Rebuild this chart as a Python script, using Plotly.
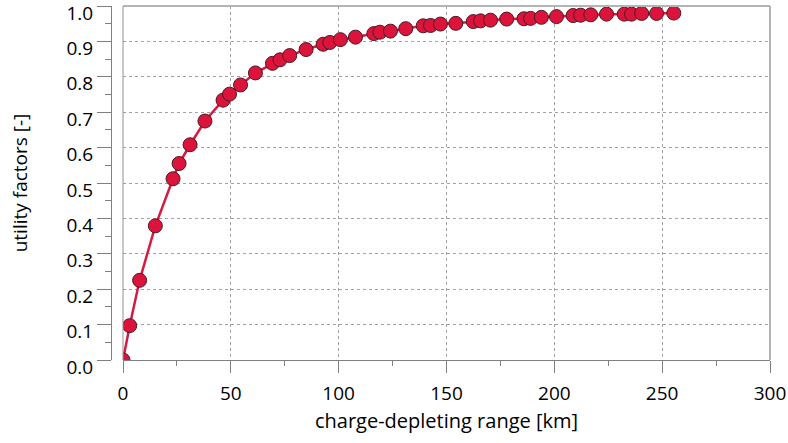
import plotly.graph_objects as go

cd_range_km = [0, 3.1, 7.7, 15.0, 23.2, 26.0, 31.1, 38.0, 46.4, 49.4, 54.5, 61.4,
               69.3, 72.8, 77.3, 84.9, 92.8, 95.9, 100.8, 107.8, 116.3, 119.1,
               124.0, 131.1, 139.2, 142.6, 147.2, 154.3, 162.4, 165.8, 170.4,
               177.9, 185.9, 189.0, 194.0, 201.0, 208.7, 212.2, 216.9, 224.2,
               232.4, 235.8, 240.5, 247.4, 255.4]
utility_factor = [0.0, 0.097, 0.225, 0.379, 0.512, 0.555, 0.608, 0.675, 0.734,
                  0.751, 0.777, 0.811, 0.838, 0.848, 0.860, 0.877, 0.892, 0.897,
                  0.905, 0.912, 0.922, 0.926, 0.929, 0.936, 0.944, 0.945, 0.949,
                  0.951, 0.956, 0.958, 0.960, 0.963, 0.964, 0.965, 0.968, 0.970,
                  0.973, 0.974, 0.975, 0.977, 0.977, 0.977, 0.979, 0.979, 0.980]

x_ticks = [0, 50, 100, 150, 200, 250, 300]
y_ticks = [0.0, 0.1, 0.2, 0.3, 0.4, 0.5, 0.6, 0.7, 0.8, 0.9, 1.0]

W, H = 788, 443
ml, mr, mt, mb = 111, 18, 6, 83
plot_left = 123
dom0 = (plot_left - ml) / (W - ml - mr)

font = "Open Sans, Noto Sans, sans-serif"
FS = 19

fig = go.Figure()
fig.add_trace(go.Scatter(
    x=cd_range_km, y=utility_factor, mode="lines+markers",
    line=dict(color="#d41c43", width=2.5),
    marker=dict(size=14, color="#dc143c", line=dict(color="#4a1a22", width=1)),
    cliponaxis=True, showlegend=False,
))

fig.update_layout(
    width=W, height=H,
    margin=dict(l=ml, r=mr, t=mt, b=mb, autoexpand=False),
    paper_bgcolor="white", plot_bgcolor="white",
    font=dict(family=font, size=FS, color="black"),
    xaxis=dict(
        domain=[dom0, 1], range=[0, 300], automargin=False,
        tickvals=x_ticks, ticktext=[str(v) for v in x_ticks],
        ticks="outside", ticklen=12, tickwidth=1, tickcolor="#808080",
        ticklabelstandoff=4, ticklabeloverflow="allow",
        minor=dict(dtick=25, ticks="outside", ticklen=5, tickcolor="#808080", showgrid=False),
        showline=True, linecolor="#808080", linewidth=1,
        showgrid=True, gridcolor="#a0a0a0", griddash="dot", gridwidth=1,
        zeroline=False,
        title=dict(text="charge-depleting range [km]", font=dict(size=20), standoff=9),
        tickfont=dict(size=FS),
    ),
    yaxis=dict(
        anchor="free", position=0, range=[0, 1.0], automargin=False,
        tickvals=y_ticks, ticktext=["%.1f" % v for v in y_ticks],
        ticks="outside", ticklen=14, tickwidth=1, tickcolor="#808080",
        ticklabelshift=7, ticklabeloverflow="allow",
        minor=dict(dtick=0.05, ticks="outside", ticklen=6, tickcolor="#808080", showgrid=False),
        showline=True, linecolor="#808080", linewidth=1,
        showgrid=True, gridcolor="#a0a0a0", griddash="dot", gridwidth=1,
        zeroline=False,
        title=dict(text="utility factors [-]", font=dict(size=FS), standoff=32),
        tickfont=dict(size=FS),
    ),
)

# plot frame: top/right thicker light gray, left thin gray
fig.add_shape(type="line", xref="x domain", yref="y domain", x0=0, x1=1, y0=1, y1=1,
              line=dict(color="#b4b4b4", width=2))
fig.add_shape(type="line", xref="x domain", yref="y domain", x0=1, x1=1, y0=0, y1=1,
              line=dict(color="#b4b4b4", width=2))
fig.add_shape(type="line", xref="x domain", yref="y domain", x0=0, x1=0, y0=0, y1=1,
              line=dict(color="#909090", width=1))

fig.write_html("out.html", config={"displayModeBar": False},
               post_script="document.body.style.margin='0';document.body.style.padding='0';")
